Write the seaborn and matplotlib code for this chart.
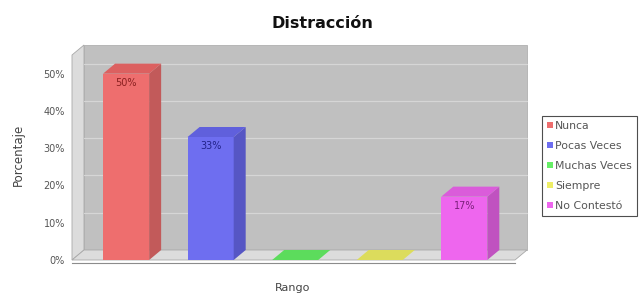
import matplotlib
matplotlib.use("Agg")
import matplotlib.pyplot as plt
from matplotlib.patches import Polygon, Patch
import seaborn as sns
import pandas as pd

categorias = ["Nunca", "Pocas Veces", "Muchas Veces", "Siempre", "No Contestó"]
porcentajes = [50, 33, 0, 0, 17]
etiquetas = ["50%", "33%", "", "", "17%"]
ticks_y = [0, 10, 20, 30, 40, 50]

colores = ["#ee6e6e", "#6e6ef0", "#66ee66", "#eeee66", "#ee66ee"]
colores_lado = ["#c25a5a", "#5656c4", "#52c252", "#c4c452", "#c052c0"]
colores_techo = ["#dc6060", "#6060dc", "#5cdc5c", "#dcdc5c", "#da5cda"]
colores_texto = ["#8a2020", "#22228a", "#207020", "#707020", "#7a207a"]

df = pd.DataFrame({"rango": categorias, "porcentaje": porcentajes})

sns.set_style("white")
plt.rcParams["font.family"] = ["DejaVu Sans"]

W, H = 643, 298
fig = plt.figure(figsize=(W / 100, H / 100), dpi=100)
# front plane of the 3d plot, in pixels
left, right, top, bottom = 72, 515, 55, 260
ax = fig.add_axes([left / W, 1 - bottom / H, (right - left) / W, (bottom - top) / H])
ax.set_facecolor("none")

sns.barplot(data=df, x="rango", y="porcentaje", hue="rango", palette=colores,
            width=0.545, ax=ax, legend=False, saturation=1, zorder=3,
            edgecolor="none")

x0, x1 = -0.64, 4.6
y0, y1 = 0, 55
ax.set_xlim(x0, x1)
ax.set_ylim(y0, y1)

# depth of the 3d effect (pixels -> data units)
dx = 12 * (x1 - x0) / (right - left)
dy = 10 * (y1 - y0) / (bottom - top)

# back wall, side wall and floor
ax.add_patch(Polygon([(x0 + dx, y0 + dy), (x1 + dx, y0 + dy), (x1 + dx, y1 + dy),
                      (x0 + dx, y1 + dy)], closed=True, facecolor="#c0c0c0",
                     edgecolor="#b0b0b0", lw=0.6, clip_on=False, zorder=0))
ax.add_patch(Polygon([(x0, y0), (x0 + dx, y0 + dy), (x0 + dx, y1 + dy), (x0, y1)],
                     closed=True, facecolor="#dcdcdc", edgecolor="#a8a8a8", lw=0.6,
                     clip_on=False, zorder=0.5))
ax.add_patch(Polygon([(x0, y0), (x1, y0), (x1 + dx, y0 + dy), (x0 + dx, y0 + dy)],
                     closed=True, facecolor="#dcdcdc", edgecolor="#a8a8a8", lw=0.6,
                     clip_on=False, zorder=0.5))
for t in ticks_y[1:]:
    ax.plot([x0 + dx, x1 + dx], [t + dy, t + dy], color="#d6d6d6", lw=0.9,
            clip_on=False, zorder=0.6)

# 3d sides and tops of the bars
bars = [p for p in ax.patches if isinstance(p, matplotlib.patches.Rectangle) and p.get_width() > 0]
for i, b in enumerate(bars):
    bx, bw, bh = b.get_x(), b.get_width(), b.get_height()
    ax.add_patch(Polygon([(bx + bw, 0), (bx + bw + dx, dy), (bx + bw + dx, bh + dy),
                          (bx + bw, bh)], closed=True, facecolor=colores_lado[i],
                         edgecolor="none", zorder=3, clip_on=False))
    ax.add_patch(Polygon([(bx, bh), (bx + bw, bh), (bx + bw + dx, bh + dy),
                          (bx + dx, bh + dy)], closed=True, facecolor=colores_techo[i],
                         edgecolor="none", zorder=3, clip_on=False))
    if etiquetas[i]:
        ax.text(bx + bw / 2, bh - 1.2, etiquetas[i], ha="center", va="top",
                fontsize=7, color=colores_texto[i], zorder=4)

for s in ["top", "right"]:
    ax.spines[s].set_visible(False)
ax.spines["left"].set_visible(False)
ax.spines["bottom"].set_color("#8c8c8c")
ax.spines["bottom"].set_position(("outward", 2))
ax.spines["bottom"].set_linewidth(0.8)

ax.set_yticks(ticks_y)
ax.set_yticklabels([f"{t}%" for t in ticks_y])
ax.set_xticks([2])
ax.set_xticklabels([""])
ax.tick_params(axis="y", length=2, color="#999999", labelsize=7,
               labelcolor="#555555", pad=3)
ax.tick_params(axis="x", length=2, color="#999999")
ax.set_xlabel("")
ax.set_ylabel("")

fig.text(322 / W, 1 - 24 / H, "Distracción", ha="center", va="center",
         fontsize=11.5, fontweight="bold", color="#111111")
fig.text(293 / W, 1 - 288 / H, "Rango", ha="center", va="center",
         fontsize=8, color="#444444")
fig.text(18 / W, 1 - 155 / H, "Porcentaje", ha="center", va="center",
         rotation=90, fontsize=8.5, color="#444444")

handles = [Patch(facecolor=c, edgecolor="none") for c in colores]
leg = fig.legend(handles, categorias, loc="upper left",
                 bbox_to_anchor=(542 / W, 1 - 116 / H), frameon=True,
                 fontsize=7.8, handlelength=0.55, handleheight=0.55,
                 handletextpad=0.2, labelspacing=0.92, borderpad=0.45,
                 borderaxespad=0, fancybox=False)
leg.get_frame().set_edgecolor("#222222")
leg.get_frame().set_linewidth(0.8)
for t in leg.get_texts():
    t.set_color("#555555")

fig.savefig("out.png", dpi=100)
